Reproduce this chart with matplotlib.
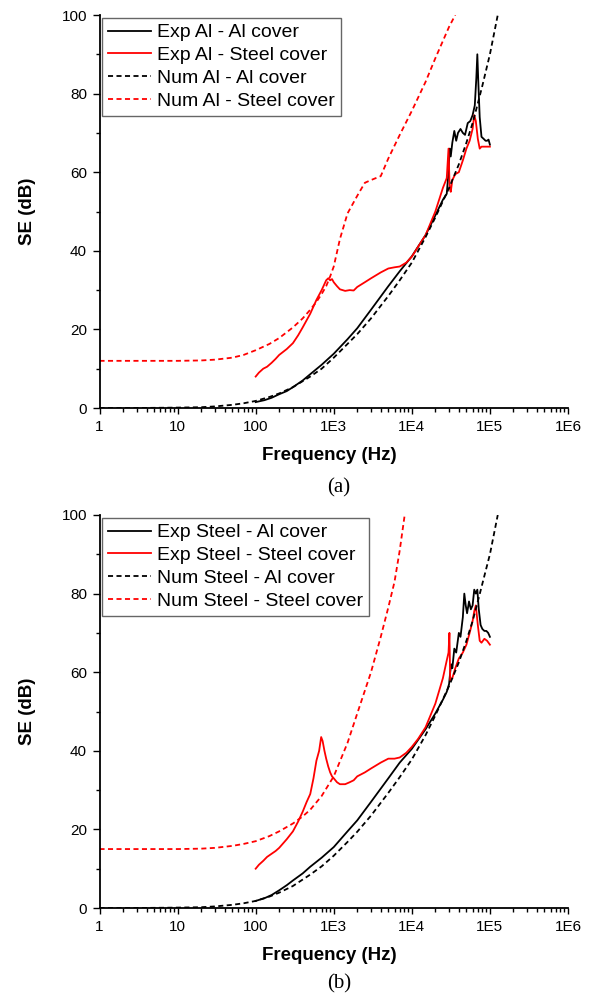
import matplotlib
matplotlib.use("Agg")
import matplotlib.pyplot as plt
from matplotlib.ticker import FixedLocator, FixedFormatter, LogLocator, NullFormatter, MultipleLocator

# ---------------- Data (a) ----------------
freq_exp_al_al = [100, 130, 160, 200, 250, 300, 400, 500, 700, 1000, 1500, 2000, 3000, 5000, 7000,
                  10000, 15000, 20000, 25000, 28000, 29500, 30500, 31500, 33000, 35000, 37000, 39000,
                  42000, 45000, 48000, 52000, 56000, 60000, 64000, 67000, 69000, 71000, 74000, 78000,
                  83000, 88000, 92000, 96000, 100000]
se_exp_al_al = [1.5, 2.0, 2.6, 3.5, 4.3, 5.3, 7.0, 8.6, 11.0, 13.8, 17.5, 20.3, 25.0, 31.0, 34.8,
                38.6, 44.0, 49.0, 53.0, 54.5, 60.0, 66.0, 64.0, 67.5, 70.5, 68.0, 70.0,
                71.0, 70.0, 69.5, 72.5, 73.0, 74.5, 77.0, 84.0, 90.0, 83.0, 74.0, 69.0,
                68.5, 68.0, 68.0, 68.3, 67.0]

freq_exp_al_st = [100, 110, 125, 140, 160, 180, 200, 250, 300, 350, 400, 500, 600, 700, 800, 850, 900,
                  950, 1000, 1100, 1200, 1400, 1600, 1800, 2000, 2500, 3000, 4000, 5000, 6000, 7000,
                  8500, 10000, 12000, 15000, 20000, 25000, 28000, 29500, 30500, 31500, 33000, 36000,
                  40000, 45000, 50000, 55000, 60000, 63000, 66000, 70000, 74000, 78000, 85000, 92000, 100000]
se_exp_al_st = [8.0, 9.0, 10.0, 10.5, 11.5, 12.5, 13.5, 15.0, 16.5, 18.5, 20.5, 24.0, 27.5, 30.0, 32.5, 33.0, 32.5,
                32.8, 32.0, 31.0, 30.2, 29.8, 30.0, 29.9, 30.8, 32.0, 33.0, 34.5, 35.5, 35.8, 36.0,
                37.0, 38.5, 41.0, 44.0, 50.0, 56.0, 58.5, 66.0, 56.0, 55.0, 58.0, 59.5,
                60.0, 63.0, 66.0, 68.0, 71.0, 74.5, 73.0, 68.5, 66.0, 66.5, 66.5, 66.5, 66.5]

freq_num_al_al = [1, 3, 10, 20, 30, 50, 70, 100, 150, 200, 300, 500, 700, 1000, 1500, 2000, 3000,
                  5000, 7000, 10000, 15000, 20000, 30000, 40000, 50000, 60000, 70000, 80000, 100000, 126000]
se_num_al_al = [0.0, 0.0, 0.1, 0.2, 0.4, 0.8, 1.2, 1.8, 2.8, 3.7, 5.3, 8.0, 10.0, 12.8, 16.3, 18.8, 22.8,
                28.5, 32.5, 37.0, 43.5, 48.5, 56.0, 62.0, 67.5, 72.5, 77.5, 82.0, 90.0, 100.0]

freq_num_al_st = [1, 3, 10, 20, 30, 50, 70, 100, 150, 200, 300, 400, 500, 600, 700, 800, 900, 1000,
                  1200, 1500, 2000, 2500, 3000, 4000, 5000, 7000, 10000, 15000, 20000, 30000, 36000]
se_num_al_st = [12.0, 12.0, 12.0, 12.1, 12.3, 12.8, 13.5, 14.7, 16.3, 17.8, 20.5, 22.8, 25.0, 27.0, 29.0, 31.0, 33.5, 36.0,
                43.0, 49.5, 54.0, 57.3, 58.0, 59.0, 63.5, 69.5, 75.6, 83.0, 89.0, 97.0, 100.0]

# ---------------- Data (b) ----------------
freq_exp_st_al = [100, 130, 160, 200, 250, 300, 400, 500, 700, 1000, 1500, 2000, 3000, 5000, 7000,
                  10000, 15000, 20000, 25000, 28000, 30000, 31000, 32000, 33000, 35000, 37000, 40000,
                  42000, 45000, 47000, 49000, 51000, 54000, 57000, 60000, 63000, 66000, 69000, 72000,
                  76000, 80000, 85000, 90000, 95000, 100000]
se_exp_st_al = [1.8, 2.5, 3.3, 4.5, 5.8, 7.0, 8.8, 10.5, 12.8, 15.5, 19.5, 22.3, 27.0, 33.0, 37.0,
                40.5, 45.5, 49.5, 53.0, 55.0, 57.0, 60.0, 62.0, 61.0, 66.0, 65.0, 70.0,
                69.0, 74.0, 80.0, 77.0, 75.0, 78.0, 76.0, 77.0, 81.0, 80.0, 81.0, 76.0,
                72.0, 71.0, 70.5, 70.5, 70.0, 69.0]

freq_exp_st_st = [100, 110, 125, 140, 160, 180, 200, 250, 300, 350, 400, 450, 500, 550, 600, 650, 690,
                  720, 760, 800, 850, 900, 950, 1000, 1100, 1200, 1400, 1600, 1800, 2000, 2500, 3000,
                  4000, 5000, 6000, 7000, 8500, 10000, 12000, 15000, 20000, 25000, 28000, 29500, 30300,
                  31000, 33000, 36000, 40000, 45000, 50000, 55000, 60000, 63000, 66000, 70000, 74000,
                  78000, 85000, 92000, 100000]
se_exp_st_st = [10.0, 11.0, 12.0, 13.0, 13.8, 14.5, 15.3, 17.5, 19.5, 22.0, 24.5, 27.0, 29.0, 33.0, 37.5, 40.0, 43.5,
                42.5, 40.0, 38.0, 36.0, 34.5, 33.5, 33.0, 32.0, 31.5, 31.5, 32.0, 32.5, 33.5, 34.5, 35.5,
                37.0, 38.0, 38.0, 38.3, 39.5, 41.0, 43.0, 46.0, 52.0, 58.5, 63.0, 65.0, 70.0,
                58.0, 58.5, 61.0, 63.5, 65.0, 67.0, 70.0, 73.0, 75.5, 77.0, 72.0, 68.0,
                67.5, 68.5, 68.0, 67.0]

freq_num_st_al = [1, 3, 10, 20, 30, 50, 70, 100, 150, 200, 300, 500, 700, 1000, 1500, 2000, 3000,
                  5000, 7000, 10000, 15000, 20000, 30000, 40000, 50000, 60000, 70000, 80000, 100000, 126000]
se_num_st_al = [0.0, 0.0, 0.1, 0.2, 0.4, 0.8, 1.2, 1.8, 2.9, 3.9, 5.6, 8.5, 10.6, 13.3, 16.8, 19.4, 23.5,
                29.3, 33.3, 37.8, 44.0, 49.0, 56.5, 62.5, 68.0, 73.0, 78.0, 82.5, 90.0, 100.0]

freq_num_st_st = [1, 3, 10, 20, 30, 50, 70, 100, 150, 200, 300, 400, 500, 700, 1000, 1500, 2000,
                  3000, 4000, 5000, 6000, 7000, 8100]
se_num_st_st = [15.0, 15.0, 15.0, 15.1, 15.3, 15.8, 16.3, 17.0, 18.3, 19.5, 21.5, 23.3, 25.0, 28.5, 33.5, 42.0, 49.5,
                60.0, 69.0, 76.5, 83.0, 91.0, 100.0]

labels_a = ["Exp Al - Al cover", "Exp Al - Steel cover", "Num Al - Al cover", "Num Al - Steel cover"]
labels_b = ["Exp Steel - Al cover", "Exp Steel - Steel cover", "Num Steel - Al cover", "Num Steel - Steel cover"]

xtick_vals = [1, 10, 100, 1e3, 1e4, 1e5, 1e6]
xtick_labels = ["1", "10", "100", "1E3", "1E4", "1E5", "1E6"]
ytick_vals = [0, 20, 40, 60, 80, 100]

plt.rcParams['font.family'] = ['Liberation Sans', 'DejaVu Sans']

fig = plt.figure(figsize=(6.08, 10.02), dpi=100)

W, H = 608.0, 1002.0
ax_left, ax_right = 99.5, 568.0
panels = [(15.0, 408.0), (515.0, 908.0)]

dash = (0, (2.8, 1.9))
lw = 1.3

def make_axes(top, bottom):
    ax = fig.add_axes([ax_left / W, 1 - bottom / H, (ax_right - ax_left) / W, (bottom - top) / H])
    ax.set_xscale('log')
    ax.set_xlim(1, 1e6)
    ax.set_ylim(0, 100)
    ax.spines['top'].set_visible(False)
    ax.spines['right'].set_visible(False)
    for s in ['left', 'bottom']:
        ax.spines[s].set_linewidth(1.3)
    ax.xaxis.set_major_locator(FixedLocator(xtick_vals))
    ax.xaxis.set_major_formatter(FixedFormatter(xtick_labels))
    ax.xaxis.set_minor_locator(LogLocator(base=10, subs=range(2, 10), numticks=20))
    ax.xaxis.set_minor_formatter(NullFormatter())
    ax.yaxis.set_major_locator(FixedLocator(ytick_vals))
    ax.yaxis.set_minor_locator(MultipleLocator(10))
    ax.tick_params(axis='both', which='major', direction='out', labelsize=11, width=1.0, colors='black')
    ax.tick_params(axis='x', which='major', length=4.5, pad=4)
    ax.tick_params(axis='x', which='minor', length=3, width=1.0, direction='out')
    ax.tick_params(axis='y', which='major', length=5, pad=4)
    ax.tick_params(axis='y', which='minor', length=3, width=1.0, direction='out')
    ax.set_xlabel("Frequency (Hz)", fontsize=13.5, fontweight='bold')
    ax.set_ylabel("SE (dB)", fontsize=13.5, fontweight='bold')
    ax.xaxis.set_label_coords(0.49, -0.1)
    ax.yaxis.set_label_coords(-0.135, 0.5)
    return ax

# Panel (a)
ax1 = make_axes(*panels[0])
ax1.plot(freq_exp_al_al, se_exp_al_al, color='black', lw=lw, label=labels_a[0])
ax1.plot(freq_exp_al_st, se_exp_al_st, color='red', lw=lw, label=labels_a[1])
ax1.plot(freq_num_al_al, se_num_al_al, color='black', lw=lw, ls=dash, label=labels_a[2])
ax1.plot(freq_num_al_st, se_num_al_st, color='red', lw=lw, ls=dash, label=labels_a[3])

# Panel (b)
ax2 = make_axes(*panels[1])
ax2.plot(freq_exp_st_al, se_exp_st_al, color='black', lw=lw, label=labels_b[0])
ax2.plot(freq_exp_st_st, se_exp_st_st, color='red', lw=lw, label=labels_b[1])
ax2.plot(freq_num_st_al, se_num_st_al, color='black', lw=lw, ls=dash, label=labels_b[2])
ax2.plot(freq_num_st_st, se_num_st_st, color='red', lw=lw, ls=dash, label=labels_b[3])

for ax in (ax1, ax2):
    leg = ax.legend(loc='upper left', fontsize=14, frameon=True, fancybox=False,
                    edgecolor='#666666', framealpha=1, borderaxespad=0.15,
                    handlelength=2.2, handletextpad=0.3, labelspacing=0.27,
                    borderpad=0.3)
    leg.get_frame().set_linewidth(1.0)

fig.text(339 / W, 1 - 488 / H, "(a)", fontsize=15, family='Liberation Serif', ha='center', va='center')
fig.text(339 / W, 1 - 984 / H, "(b)", fontsize=15, family='Liberation Serif', ha='center', va='center')

fig.savefig("out.png", dpi=100)
